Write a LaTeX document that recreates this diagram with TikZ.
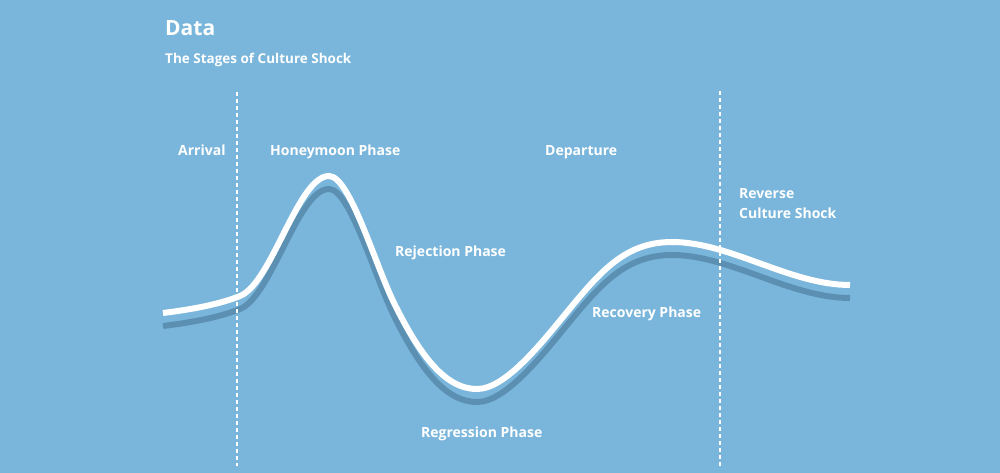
\documentclass[tikz,border=0pt]{standalone}
\usepackage{fontspec}
\setmainfont{Open Sans}
\definecolor{bgblue}{HTML}{7AB6DB}
\definecolor{curveshadow}{HTML}{5C90B2}
\begin{document}
\begin{tikzpicture}[x=1pt,y=-1pt,
  lbl/.style={text=white,font=\bfseries\fontsize{14}{17}\selectfont,anchor=base west,inner sep=0pt},
  sublbl/.style={lbl,font=\bfseries\fontsize{13.5}{16}\selectfont},
  ttl/.style={lbl,font=\bfseries\fontsize{21}{24}\selectfont},
  divider/.style={white,line width=1.6pt,dash pattern=on 4pt off 3pt},
  curveline/.style={line width=6pt}]
\fill[bgblue] (0,0) rectangle (1000,473);
\useasboundingbox (0,0) rectangle (1000,473);
\foreach \dy/\col in {13/curveshadow,0/white}{
  \draw[curveline,draw=\col,shift={(0,\dy)}]
    (163,313) .. controls (195,309) and (220,304) .. (240,296)
              .. controls (272,283) and (298,176) .. (329,176)
              .. controls (350,176) and (375,265) .. (395,305)
              .. controls (420,355) and (445,389) .. (477,389)
              .. controls (505,389) and (540,345) .. (567,312)
              .. controls (600,272) and (625,242) .. (672,242)
              .. controls (730,242) and (790,285) .. (850,285);
}
\coordinate (d1t) at (237,92);
\coordinate (d1b) at (237,466);
\coordinate (d2t) at (720,91);
\coordinate (d2b) at (720,466);
\draw[divider] (d1t) -- (d1b);
\draw[divider] (d2t) -- (d2b);
\node[ttl] (title) at (165,36) {Data};
\node[sublbl] (subtitle) at (165,64) {The Stages of Culture Shock};
\node[lbl] (arrival) at (178,156) {Arrival};
\node[lbl] (honey) at (270,156) {Honeymoon Phase};
\node[lbl] (depart) at (545,156) {Departure};
\node[lbl] (reject) at (395,256) {Rejection Phase};
\node[lbl] (reverse1) at (739,198) {Reverse};
\node[lbl] (reverse2) at (739,218) {Culture Shock};
\node[lbl] (recover) at (592,317) {Recovery Phase};
\node[lbl] (regress) at (421,437) {Regression Phase};
\end{tikzpicture}
\end{document}
